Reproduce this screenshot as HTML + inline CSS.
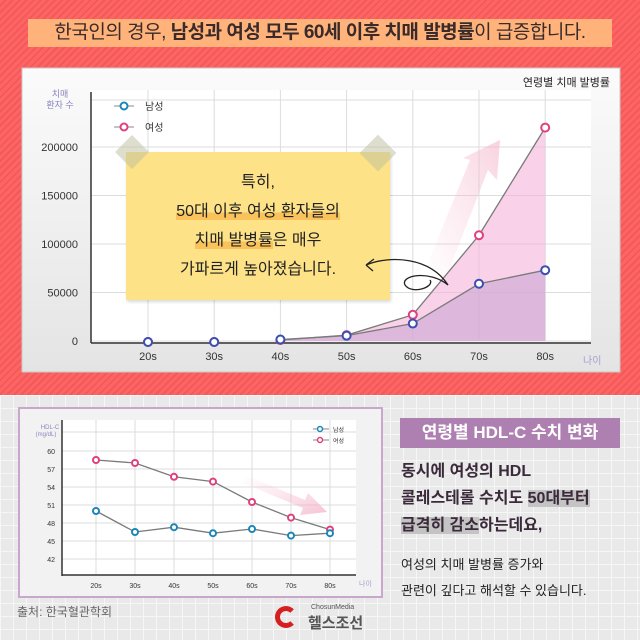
<!DOCTYPE html>
<html><head><meta charset="utf-8">
<style>
body{margin:0;width:640px;height:640px;overflow:hidden;font-family:"Liberation Sans","Noto Sans CJK KR",sans-serif;}
#top{position:absolute;left:0;top:0;width:640px;height:395px;background:repeating-linear-gradient(135deg,#ff6464 0 3px,#f25a5a 3px 5px);}
#bottom{position:absolute;left:0;top:395px;width:640px;height:245px;background-color:#e9e9e9;background-image:linear-gradient(#f6f6f6 1px,transparent 1px),linear-gradient(90deg,#f6f6f6 1px,transparent 1px);background-size:13px 13px;}
.abs{position:absolute;}
</style></head><body>
<div id="top"></div>
<div id="bottom"></div>
<div class="abs" style="left:28px;top:19px;width:584px;height:28px;background:#ffb27a;color:#3a2a2a;font-size:19px;line-height:28px;text-align:center;letter-spacing:-0.5px">한국인의 경우, <span style="font-weight:600">남성과 여성 모두 60세 이후 치매 발병률</span>이 급증합니다.</div>

<svg class="abs" style="left:0;top:0" width="640" height="640">
<defs>
<linearGradient id="pg" x1="0" y1="0" x2="0" y2="1"><stop offset="0" stop-color="#fbfbfb"/><stop offset="1" stop-color="#e4e4e4"/></linearGradient>
<linearGradient id="arr" x1="0" y1="1" x2="1" y2="0"><stop offset="0" stop-color="#f7c6d6" stop-opacity="0"/><stop offset="1" stop-color="#f4b6cb" stop-opacity="0.6"/></linearGradient>
<linearGradient id="arr2" x1="0" y1="0" x2="1" y2="1"><stop offset="0" stop-color="#f7c6d6" stop-opacity="0"/><stop offset="1" stop-color="#f2a8c2" stop-opacity="0.7"/></linearGradient>
</defs>
<rect x="22" y="68" width="598" height="304" fill="url(#pg)" stroke="#c9c9c9"/>
<rect x="91" y="90" width="500" height="252" fill="#fff"/>
<g id="c1"></g>
<rect x="19" y="408" width="363" height="189" fill="#f2f2f2" stroke="#c9a6cc" stroke-width="2"/>
<rect x="62" y="420" width="294" height="155" fill="#fff"/>
<g id="c2"></g>
</svg>

<div class="abs" style="left:126px;top:152px;width:264px;height:148px;background:#fde287;box-shadow:1px 2px 3px rgba(0,0,0,0.15);text-align:center;font-size:16px;line-height:29px;color:#222;padding-top:16px;box-sizing:border-box">특히,<br><span style="background:linear-gradient(transparent 55%,#f9c25a 55%)">50대 이후 여성 환자들의</span><br><span style="background:linear-gradient(transparent 55%,#f9c25a 55%)">치매 발병률</span>은 매우<br>가파르게 높아졌습니다.</div>
<div class="abs" style="left:120px;top:140px;width:24px;height:24px;background:rgba(190,190,160,0.5);transform:rotate(45deg)"></div>
<div class="abs" style="left:365px;top:140px;width:26px;height:26px;background:rgba(190,190,160,0.5);transform:rotate(45deg)"></div>
<svg class="abs" style="left:360px;top:255px" width="95" height="40"><path d="M6 10 C30 0 70 2 88 30 C70 15 40 20 45 30 C52 40 75 32 70 25 M6 10 L14 4 M6 10 L13 16" fill="none" stroke="#222" stroke-width="1.3"/></svg>

<div class="abs" style="left:500px;top:74px;width:110px;text-align:right;font-size:11px;color:#222">연령별 치매 발병률</div>
<div class="abs" style="left:40px;top:89px;width:40px;text-align:center;font-size:9px;line-height:11px;color:#8a86bf">치매<br>환자 수</div>
<div class="abs" style="left:583px;top:352px;font-size:10px;color:#a3a0d0">나이</div>

<div class="abs" style="left:400px;top:418px;width:220px;height:30px;background:#ae80b1;color:#fff;font-size:17px;line-height:30px;text-align:center;font-weight:bold">연령별 HDL-C 수치 변화</div>
<div class="abs" style="left:401px;top:458px;font-size:16px;line-height:27px;color:#3a2a3a;font-weight:bold">동시에 여성의 HDL<br>콜레스테롤 수치도 <span style="background:#c4c4c4">50대부터</span><br><span style="background:#c4c4c4">급격히 감소</span>하는데요,</div>
<div class="abs" style="left:401px;top:552px;font-size:13px;line-height:26px;color:#222">여성의 치매 발병률 증가와<br>관련이 깊다고 해석할 수 있습니다.</div>
<div class="abs" style="left:17px;top:603px;font-size:12px;color:#666">출처: 한국혈관학회</div>
<div class="abs" style="left:275px;top:604px;width:95px;height:30px">
<div style="position:absolute;left:0;top:2px;width:22px;height:22px;border-radius:50%;border:5px solid #d62020;border-right-color:transparent;box-sizing:border-box"></div>
<div style="position:absolute;left:36px;top:0;font-size:7px;color:#555">ChosunMedia</div>
<div style="position:absolute;left:33px;top:8px;font-size:15px;font-weight:bold;color:#555">헬스조선</div>
</div>

<script>
const cats=["20s","30s","40s","50s","60s","70s","80s"];
const female1=[0,0,1000,6000,27000,109000,220000];
const male1=[0,0,1500,5500,18000,59000,73000];
const ticks1=[0,50000,100000,150000,200000];
const female2=[58.5,58,55.7,54.9,51.5,48.9,46.9];
const male2=[50,46.5,47.3,46.3,47,45.9,46.3];
const ticks2=[42,45,48,51,54,57,60];
const NS="http://www.w3.org/2000/svg";
function mk(p,t,a){const e=document.createElementNS(NS,t);for(const k in a)e.setAttribute(k,a[k]);p.appendChild(e);return e;}
const g1=document.getElementById('c1');
const x1=i=>148+i*66.2, y1=v=>341-v*48.5/50000;
for(const t of ticks1){mk(g1,'line',{x1:91,x2:591,y1:y1(t),y2:y1(t),stroke:'#dcdcdc'});
 const tx=mk(g1,'text',{x:78,y:y1(t)+4,'text-anchor':'end','font-size':11,fill:'#333'});tx.textContent=t;
 }
mk(g1,'line',{x1:91,x2:591,y1:100,y2:100,stroke:'#dcdcdc'});
cats.forEach((c,i)=>{mk(g1,'line',{x1:x1(i),x2:x1(i),y1:90,y2:341,stroke:'#dcdcdc'});
 const tx=mk(g1,'text',{x:x1(i),y:360,'text-anchor':'middle','font-size':11,fill:'#333'});tx.textContent=c;
 });
mk(g1,'polygon',{points:'425,270 470,160 463,158 500,140 497,180 488,170 445,280',fill:'url(#arr)'});
const area=(arr)=>{let s=`${x1(2)},${y1(0)} `;for(let i=2;i<7;i++)s+=`${x1(i)},${y1(arr[i])} `;return s+`${x1(6)},${y1(0)}`;};
const fa=mk(g1,'polygon',{points:area(female1),fill:'#f5b3d8',opacity:0.6});

const ma=mk(g1,'polygon',{points:area(male1),fill:'#c9a6d4',opacity:0.6});

mk(g1,'line',{x1:91,x2:91,y1:92,y2:343,stroke:'#333','stroke-width':1.5});
mk(g1,'line',{x1:91,x2:591,y1:343,y2:343,stroke:'#333','stroke-width':1.5});
function series(g,arr,xf,yf,col,name,from,r){let d='';for(let i=from;i<arr.length;i++)d+=(i==from?'M':'L')+xf(i)+','+yf(arr[i]);
 const l=mk(g,'path',{d:d,fill:'none',stroke:'#7a7a7a','stroke-width':1.3});
 arr.forEach((v,i)=>{const c=mk(g,'circle',{cx:xf(i),cy:yf(v)+(v==0?1:0),r:r,fill:'#fff',stroke:col,'stroke-width':2});
 });}
series(g1,female1,x1,y1,'#e0407e','female',2,4);
series(g1,male1,x1,y1,'#3a4fb0','male',2,4);
[[106,'#1b87b8','남성'],[127,'#e0407e','여성']].forEach(([y,c,t])=>{mk(g1,'line',{x1:114,x2:134,y1:y,y2:y,stroke:'#888'});mk(g1,'circle',{cx:124,cy:y,r:3.5,fill:'#fff',stroke:c,'stroke-width':2});
 const tx=mk(g1,'text',{x:145,y:y+4,'font-size':10,fill:'#333'});tx.textContent=t;});
const g2=document.getElementById('c2');
const x2=i=>96+i*39, y2=v=>559-(v-42)*6;
for(const t of ticks2){mk(g2,'line',{x1:62,x2:356,y1:y2(t),y2:y2(t),stroke:'#dcdcdc'});
 const tx=mk(g2,'text',{x:55,y:y2(t)+3,'text-anchor':'end','font-size':7,fill:'#333'});tx.textContent=t;
 }
mk(g2,'line',{x1:62,x2:356,y1:432,y2:432,stroke:'#dcdcdc'});
cats.forEach((c,i)=>{mk(g2,'line',{x1:x2(i),x2:x2(i),y1:420,y2:575,stroke:'#dcdcdc'});
 const tx=mk(g2,'text',{x:x2(i),y:588,'text-anchor':'middle','font-size':7,fill:'#333'});tx.textContent=c;
 });
mk(g2,'polygon',{points:'245,475 305,500 308,493 327,512 300,515 303,508 243,483',fill:'url(#arr2)'});
mk(g2,'line',{x1:62,x2:62,y1:420,y2:576,stroke:'#333','stroke-width':1.5});
mk(g2,'line',{x1:62,x2:356,y1:575,y2:575,stroke:'#333','stroke-width':1.5});
series(g2,female2,x2,y2,'#e0407e','female2',0,3);
series(g2,male2,x2,y2,'#1b87b8','male2',0,3);
[[429,'#1b87b8','남성'],[440,'#e0407e','여성']].forEach(([y,c,t])=>{mk(g2,'line',{x1:313,x2:329,y1:y,y2:y,stroke:'#888'});mk(g2,'circle',{cx:320,cy:y,r:2.5,fill:'#fff',stroke:c,'stroke-width':1.5});
 const tx=mk(g2,'text',{x:333,y:y+3,'font-size':6,fill:'#333'});tx.textContent=t;});
const a=mk(g2,'text',{x:50,y:429,'text-anchor':'middle','font-size':6,fill:'#8a86bf'});a.textContent='HDL-C';

const b=mk(g2,'text',{x:46,y:436,'text-anchor':'middle','font-size':6,fill:'#8a86bf'});b.textContent='(mg/dL)';

const n=mk(g2,'text',{x:359,y:586,'font-size':7,fill:'#a3a0d0'});n.textContent='나이';

</script>
</body></html>
